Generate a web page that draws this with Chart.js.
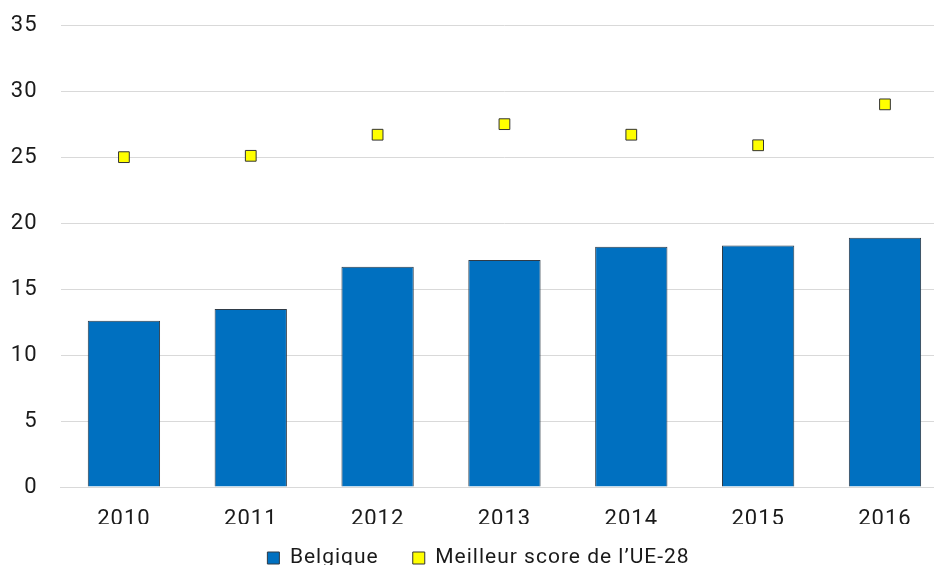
<!DOCTYPE html>
<html>
<head>
<meta charset="utf-8">
<script src="https://cdn.jsdelivr.net/npm/chart.js@4.4.0/dist/chart.umd.min.js"></script>
<style>
    html, body { margin: 0; padding: 0; overflow: hidden; background: #fff; }
    #wrap { width: 957px; height: 576px; margin-top: -11px; }
</style>
</head>
<body>
<div id="wrap"><canvas id="chart-cont"></canvas></div>
<script>
// data
var years = ["2010", "2011", "2012", "2013", "2014", "2015", "2016"];
var belgique = [12.6, 13.5, 16.7, 17.2, 18.2, 18.3, 18.9];
var meilleurUE = [25.0, 25.1, 26.7, 27.5, 26.7, 25.9, 29.0];
var yTicks = [0, 5, 10, 15, 20, 25, 30, 35];

Chart.defaults.font.family = "Roboto, 'Noto Sans', sans-serif";
Chart.defaults.color = '#1a1a1a';

// the reference text is a bit wider than plain Roboto
var spacing = {
    id: 'spacing',
    beforeUpdate: function (chart) { chart.ctx.letterSpacing = '1px'; },
    beforeDraw: function (chart) { chart.ctx.letterSpacing = '1px'; }
};

// wide gap between legend items without a tall legend box
var legendHeight = {
    id: 'legendHeight',
    afterInit: function (chart) {
        var lg = chart.legend;
        var fit = lg.fit;
        lg.fit = function () {
            fit.call(this);
            this.height = 41;
        };
    },
    afterLayout: function (chart) {
        // only move the top: the legend clips to its own box
        chart.legend.top -= 10.5;
        chart.legend.height += 10.5;
    }
};

var canvasElement = document.getElementById("chart-cont").getContext('2d');

var config = {
    type: "bar",
    data: {
        labels: years,
        datasets: [{
            type: 'line',
            label: "Meilleur score de l\u2019UE-28",
            data: meilleurUE,
            showLine: false,
            pointStyle: 'rect',
            pointRadius: 7.6,
            pointHoverRadius: 7.6,
            pointBackgroundColor: '#ffff00',
            pointBorderColor: '#333333',
            pointBorderWidth: 1,
            backgroundColor: '#ffff00',
            borderColor: '#333333',
            borderWidth: 1,
            order: 0
        }, {
            label: "Belgique",
            data: belgique,
            backgroundColor: '#0070c0',
            borderColor: '#2f3b47',
            borderWidth: 1,
            barPercentage: 0.57,
            categoryPercentage: 1,
            order: 1
        }]
    },
    plugins: [spacing, legendHeight],
    options: {
        responsive: true,
        maintainAspectRatio: false,
        animation: false,
        layout: { padding: { top: 6, right: 0, left: 0, bottom: 0 } },
        scales: {
            x: {
                grid: { display: false },
                border: { display: true, color: '#d9d9d9' },
                ticks: { font: { size: 22 }, padding: 11, color: '#1a1a1a' },
                afterFit: function (axis) { axis.height = 37; }
            },
            y: {
                min: 0,
                max: 35,
                afterBuildTicks: function (axis) {
                    axis.ticks = yTicks.map(function (v) { return { value: v }; });
                },
                afterFit: function (axis) { axis.width = 60.5; },
                grid: { color: '#d9d9d9', lineWidth: 1, drawTicks: false },
                border: { display: false },
                ticks: { font: { size: 22 }, padding: 23, color: '#1a1a1a' }
            }
        },
        plugins: {
            tooltip: { enabled: false },
            legend: {
                display: true,
                position: 'bottom',
                reverse: true,
                labels: {
                    usePointStyle: true,
                    pointStyle: 'rect',
                    boxHeight: 12,
                    boxWidth: 12,
                    padding: 34,
                    font: { size: 21 },
                    color: '#1a1a1a'
                }
            }
        }
    }
};

var chart = new Chart(canvasElement, config);
</script>
</body>
</html>
